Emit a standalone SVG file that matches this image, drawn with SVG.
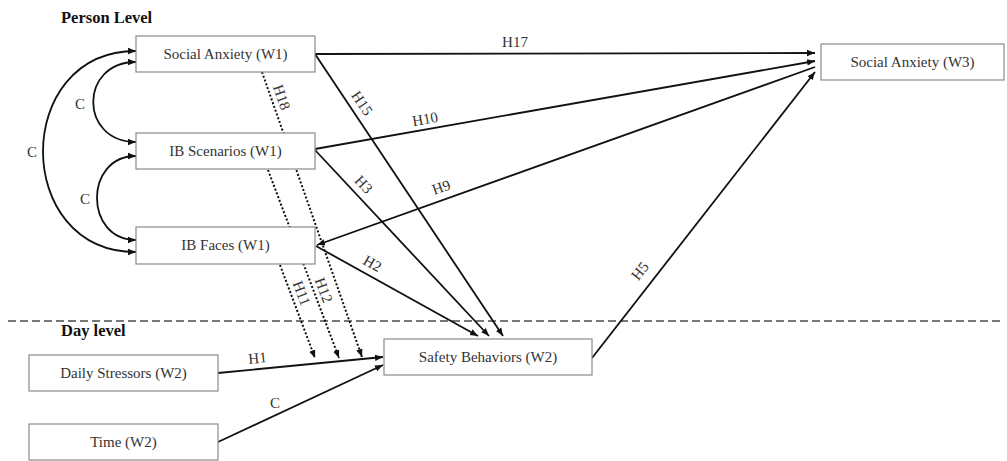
<svg xmlns="http://www.w3.org/2000/svg" width="1007" height="461" viewBox="0 0 1007 461">
<style>
.box{fill:#fff;stroke:#8a8a8a;stroke-width:1.2}
.t{font-family:"Liberation Serif","Times New Roman",serif;font-size:15px;fill:#333;text-anchor:middle}
.h{font-family:"Liberation Serif","Times New Roman",serif;font-size:16.5px;font-weight:bold;fill:#111}
.ln{fill:none;stroke:#111;stroke-width:1.8;marker-end:url(#ah)}
.bi{fill:none;stroke:#111;stroke-width:1.8;marker-start:url(#ah);marker-end:url(#ah)}
.dot{fill:none;stroke:#111;stroke-width:2;stroke-dasharray:2 2;marker-end:url(#ah)}
.lb{font-family:"Liberation Serif","Times New Roman",serif;font-size:15px;fill:#333;text-anchor:middle}
</style>
<defs>
<marker id="ah" viewBox="0 0 10 10" refX="10" refY="5" markerWidth="8" markerHeight="8" markerUnits="userSpaceOnUse" orient="auto-start-reverse">
<path d="M0,1 L10,5 L0,9 Z" fill="#111"/>
</marker>
</defs>
<rect width="1007" height="461" fill="#fff"/>
<text class="h" x="61" y="23">Person Level</text>
<line x1="8" y1="321" x2="1001" y2="321" stroke="#777" stroke-width="2" stroke-dasharray="8 4"/>
<text class="h" x="61" y="336">Day level</text>
<g id="connectors">
<path class="dot" d="M262,72 L362,357"/>
<path class="dot" d="M268,170 L339,358"/>
<path class="dot" d="M280,265 L315,358"/>
<path class="bi" d="M136,62 C79,62 79,142 136,142"/>
<path class="bi" d="M136,51 C12,51 12,252 136,252"/>
<path class="bi" d="M136,156 C84,156 84,240 136,240"/>
<path class="ln" d="M315,54 L815,53"/>
<path class="ln" d="M315,149 L815,61"/>
<path class="ln" d="M815,67 L317,245"/>
<path class="ln" d="M592,358 L815,72"/>
<path class="ln" d="M315,54 L503,336"/>
<path class="ln" d="M315,150 L489,336"/>
<path class="ln" d="M316,246 L478,336"/>
<path class="ln" d="M218,373 L383,357"/>
<path class="ln" d="M218,442 L383,365"/>
<text class="lb" x="515" y="47">H17</text>
<text class="lb" transform="translate(426,124) rotate(-10)">H10</text>
<text class="lb" transform="translate(443,192) rotate(-19.6)">H9</text>
<text class="lb" transform="translate(644,274) rotate(-52)">H5</text>
<text class="lb" transform="translate(358,106) rotate(56.3)">H15</text>
<text class="lb" transform="translate(360,188) rotate(46.9)">H3</text>
<text class="lb" transform="translate(370,268) rotate(29.2)">H2</text>
<text class="lb" transform="translate(277,99) rotate(70.7)">H18</text>
<text class="lb" transform="translate(297,295) rotate(69.4)">H11</text>
<text class="lb" transform="translate(319,292) rotate(69.3)">H12</text>
<text class="lb" transform="translate(258,363) rotate(-5.5)">H1</text>
<text class="lb" x="275" y="408">C</text>
<text class="lb" x="80" y="109">C</text>
<text class="lb" x="32" y="157">C</text>
<text class="lb" x="85" y="204">C</text>
</g>
<g id="n-sa1"><rect class="box" x="136" y="36" width="179" height="36"/><text class="t" x="225.5" y="59">Social Anxiety (W1)</text></g>
<g id="n-ibs"><rect class="box" x="136" y="133" width="179" height="36"/><text class="t" x="225.5" y="156">IB Scenarios (W1)</text></g>
<g id="n-ibf"><rect class="box" x="136" y="227" width="179" height="37"/><text class="t" x="225.5" y="250">IB Faces (W1)</text></g>
<g id="n-sb"><rect class="box" x="384" y="339" width="208" height="36"/><text class="t" x="488" y="362">Safety Behaviors (W2)</text></g>
<g id="n-ds"><rect class="box" x="29" y="355" width="189" height="36"/><text class="t" x="123.5" y="378">Daily Stressors (W2)</text></g>
<g id="n-time"><rect class="box" x="29" y="424" width="189" height="36"/><text class="t" x="123.5" y="447">Time (W2)</text></g>
<g id="n-sa3"><rect class="box" x="821" y="44" width="183" height="36"/><text class="t" x="912.5" y="67">Social Anxiety (W3)</text></g>
</svg>
